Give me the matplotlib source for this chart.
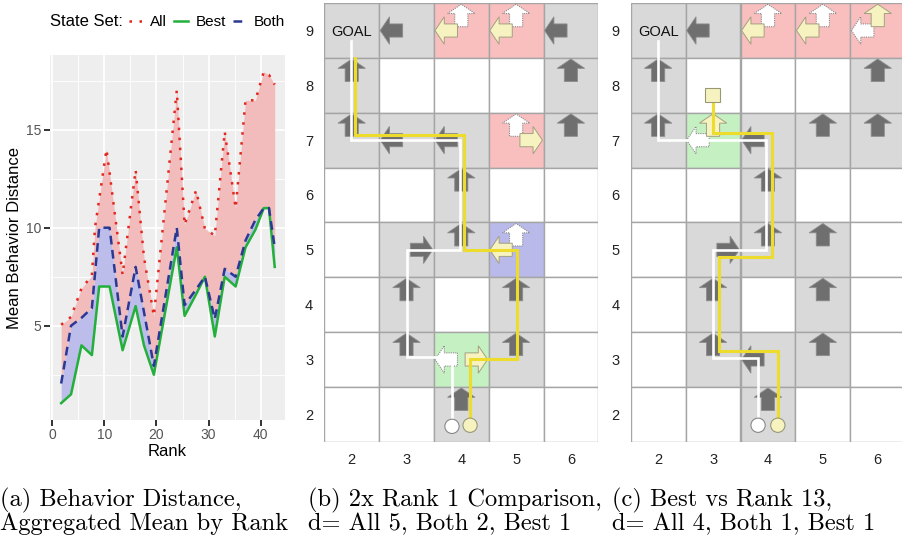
import numpy as np
import matplotlib.pyplot as plt
from matplotlib.patches import Polygon, Rectangle, Circle

W, H = 902, 537

# ---------------- panel (a): behaviour distance by rank ----------------
rank = [1.7, 3.6, 5.6, 7.6, 8.2, 9.0, 10.4, 11.0, 13.5, 16.0, 17.6, 19.5,
        23.9, 25.4, 27.6, 29.3, 31.2, 33.1, 35.2, 37.1, 39.0, 40.6, 41.6, 42.7]
dist_all = [5.05, 5.45, 6.9, 7.55, 10.0, 11.45, 14.0, 12.8, 7.6, 12.95, 8.5, 5.5,
            17.0, 10.15, 11.9, 9.95, 9.6, 14.9, 11.0, 16.5, 16.5, 17.95, 17.8, 17.3]
dist_both = [2.05, 5.0, 5.4, 5.9, 7.65, 10.0, 10.0, 10.0, 4.45, 8.0, 5.7, 2.95,
             10.0, 6.05, 6.85, 7.5, 5.35, 7.9, 7.5, 9.35, 10.4, 11.0, 11.0, 9.0]
dist_best = [1.05, 1.5, 4.0, 3.5, 5.0, 7.0, 7.0, 7.0, 3.75, 6.0, 4.0, 2.5,
             9.0, 5.5, 6.6, 7.5, 4.45, 7.5, 7.0, 9.0, 9.9, 11.0, 11.0, 8.0]
series_names = ['All', 'Best', 'Both']

# ---------------- panels (b) and (c): gridworld ----------------
cols = [2, 3, 4, 5, 6]
rows = [9, 8, 7, 6, 5, 4, 3, 2]
# g grey, w white, r red, G green, b blue  (rows 9 -> 2, cols 2 -> 6)
cells_b = ['ggrrg', 'gwwwg', 'gggrg', 'wwgww', 'wggbw', 'wgwgw', 'wgGgw', 'wwgww']
cells_c = ['ggrrr', 'gwwwg', 'gGggg', 'wwgww', 'wgggw', 'wgwgw', 'wgggw', 'wwgww']
# (col, row, direction, style)  d dark, y yellow, o white dotted
arrows_b = [(3, 9, 'L', 'd'), (6, 9, 'L', 'd'), (4, 9, 'U', 'o'), (4, 9, 'L', 'y'),
            (5, 9, 'U', 'o'), (5, 9, 'L', 'y'), (2, 8, 'U', 'd'), (6, 8, 'U', 'd'),
            (2, 7, 'U', 'd'), (3, 7, 'L', 'd'), (4, 7, 'L', 'd'), (5, 7, 'U', 'o'),
            (5, 7, 'R', 'y'), (6, 7, 'U', 'd'), (4, 6, 'U', 'd'), (3, 5, 'R', 'd'),
            (4, 5, 'U', 'd'), (5, 5, 'U', 'o'), (5, 5, 'L', 'y'), (3, 4, 'U', 'd'),
            (5, 4, 'U', 'd'), (3, 3, 'U', 'd'), (4, 3, 'L', 'o'), (4, 3, 'R', 'y'),
            (5, 3, 'U', 'd'), (4, 2, 'U', 'd')]
arrows_c = [(3, 9, 'L', 'd'), (4, 9, 'U', 'o'), (4, 9, 'L', 'y'), (5, 9, 'U', 'o'),
            (5, 9, 'L', 'y'), (6, 9, 'U', 'y'), (6, 9, 'L', 'o'), (2, 8, 'U', 'd'),
            (6, 8, 'U', 'd'), (2, 7, 'U', 'd'), (3, 7, 'U', 'y'), (3, 7, 'L', 'o'),
            (4, 7, 'L', 'd'), (5, 7, 'U', 'd'), (6, 7, 'U', 'd'), (4, 6, 'U', 'd'),
            (3, 5, 'R', 'd'), (4, 5, 'U', 'd'), (5, 5, 'U', 'd'), (3, 4, 'U', 'd'),
            (5, 4, 'U', 'd'), (3, 3, 'U', 'd'), (4, 3, 'L', 'd'), (5, 3, 'U', 'd'),
            (4, 2, 'U', 'd')]
white_b_x = [3.83, 3.83, 3.0, 3.0, 3.97, 3.97, 1.98, 1.98]
white_b_y = [1.8, 3.05, 3.05, 5.0, 5.0, 7.0, 7.0, 8.8]
yellow_b_x = [4.16, 4.16, 5.02, 5.02, 4.05, 4.05, 2.06, 2.06]
yellow_b_y = [1.82, 3.0, 3.0, 5.0, 5.0, 7.1, 7.1, 8.5]
white_c_x = [3.82, 3.82, 3.0, 3.0, 3.96, 3.96, 1.99, 1.99]
white_c_y = [1.82, 3.02, 3.02, 5.0, 5.0, 7.0, 7.0, 8.8]
yellow_c_x = [4.18, 4.18, 3.11, 3.11, 4.07, 4.07, 2.99, 2.99]
yellow_c_y = [1.82, 3.15, 3.15, 4.86, 4.86, 7.13, 7.13, 7.82]

captions = [["(a) Behavior Distance,", "Aggregated Mean by Rank"],
            ["(b) 2x Rank 1 Comparison,", "d= All 5, Both 2, Best 1"],
            ["(c) Best vs Rank 13,", "d= All 4, Both 1, Best 1"]]

plt.rcParams['font.family'] = ['Liberation Sans', 'DejaVu Sans']

fig = plt.figure(figsize=(W / 100, H / 100), dpi=100)


def px_axes(left, top, right, bottom):
    return fig.add_axes([left / W, 1 - bottom / H, (right - left) / W, (bottom - top) / H])


# ---- (a)
ax = px_axes(50, 55.2, 284.6, 420)
ax.set_facecolor('#EEEEEE')
ax.fill_between(rank, dist_both, dist_all, color='#F2BCBC', lw=0, zorder=2)
ax.fill_between(rank, dist_best, dist_both, color='#BDBDEC', lw=0, zorder=2)
l_all, = ax.plot(rank, dist_all, color='#E3261E', lw=1.8, ls=(0, (1, 3)), zorder=4)
l_best, = ax.plot(rank, dist_best, color='#22B03A', lw=1.8, zorder=3)
l_both, = ax.plot(rank, dist_both, color='#2B3894', lw=1.8, ls=(0, (3.5, 2.2)), zorder=3)
ax.set_xlim(-0.44, 44.6)
ax.set_ylim(0.19, 18.8)
ax.set_xticks([0, 10, 20, 30, 40])
ax.set_xticks([5, 15, 25, 35], minor=True)
ax.set_yticks([5, 10, 15])
ax.set_yticks([2.5, 7.5, 12.5, 17.5], minor=True)
ax.grid(which='major', color='white', lw=1.2, zorder=0)
ax.grid(which='minor', color='white', lw=0.6, zorder=0)
ax.set_axisbelow(True)
for s in ax.spines.values():
    s.set_visible(False)
ax.tick_params(which='major', length=4, width=1.3, color='#222222',
               labelsize=10, labelcolor='#555555', pad=2)
ax.tick_params(which='minor', length=0)
ax.set_xlabel('Rank', fontsize=12, labelpad=1)
ax.set_ylabel('Mean Behavior Distance', fontsize=12, labelpad=3)

fig.text(50 / W, 1 - 22 / H, 'State Set:', fontsize=12, va='center', ha='left')
fig.legend([l_all, l_best, l_both], series_names, ncol=3, frameon=False,
           loc='center left', bbox_to_anchor=(129 / W, 1 - 22 / H),
           fontsize=11, handlelength=0.9, handletextpad=0.5, columnspacing=0.45,
           borderaxespad=0, borderpad=0)

# ---- (b), (c)
cell_colors = {'g': '#D9D9D9', 'w': '#FFFFFF', 'r': '#F9BEBE', 'G': '#C4F0C2', 'b': '#B9B9EA'}
arrow_styles = {'d': dict(fc='#6F6F6F', ec='#8C8C8C', lw=0.6, ls='-'),
                'y': dict(fc='#F7F3C1', ec='#A3A083', lw=0.7, ls='-'),
                'o': dict(fc='#FFFFFF', ec='#8A8A8A', lw=0.8, ls=(0, (1, 1)))}
dirs = {'U': (0, 1), 'L': (-1, 0), 'R': (1, 0)}


def arrow_poly(c, r, d):
    L, hw, hl, sw = 0.41, 0.50, 0.17, 0.24
    ux, uy = dirs[d]
    tx, ty = c + ux * 0.48, r + uy * 0.48
    local = [(0, 0), (-hl, hw / 2), (-hl, sw / 2), (-L, sw / 2), (-L, -sw / 2),
             (-hl, -sw / 2), (-hl, -hw / 2)]
    return [(tx + a * ux - b * uy, ty + a * uy + b * ux) for a, b in local]


def draw_grid(ax, cells, arrows, wx, wy, yx, yy, square):
    for i, r in enumerate(rows):
        for j, c in enumerate(cols):
            ax.add_patch(Rectangle((c - 0.5, r - 0.5), 1, 1, fc=cell_colors[cells[i][j]],
                                   ec='#A5A5A5', lw=1.0, zorder=1))
    for c, r, d, st in arrows:
        ax.add_patch(Polygon(arrow_poly(c, r, d), closed=True, zorder=3 if st == 'y' else 2,
                             **arrow_styles[st]))
    ax.text(2.0, 8.98, 'GOAL', ha='center', va='center', fontsize=10.5, color='#111111', zorder=6)
    ax.plot(wx, wy, color='white', lw=1.9, zorder=4, solid_joinstyle='miter')
    ax.plot(yx, yy, color='#EEDC2C', lw=2.2, zorder=5, solid_joinstyle='miter')
    ax.add_patch(Circle((wx[0], wy[0] - 0.02), 0.13, fc='white', ec='#888888', lw=0.8, zorder=7))
    ax.add_patch(Circle((yx[0], yy[0] - 0.02), 0.13, fc='#F7F3C1', ec='#999977', lw=0.8, zorder=7))
    if square:
        ax.add_patch(Rectangle((yx[-1] - 0.13, yy[-1] - 0.13), 0.26, 0.26, fc='#F7F3C1',
                               ec='#999977', lw=0.8, zorder=7))
    ax.set_xlim(1.5, 6.5)
    ax.set_ylim(1.5, 9.5)
    ax.set_xticks(cols)
    ax.set_yticks(rows)
    ax.tick_params(length=0, labelsize=10.5, labelcolor='#222222', pad=8)
    for lab in ax.get_xticklabels() + ax.get_yticklabels():
        lab.set_family(['Liberation Sans Narrow', 'Liberation Sans'])
    for s in ax.spines.values():
        s.set_visible(False)


ax_b = px_axes(324.3, 3.1, 598.3, 441.7)
draw_grid(ax_b, cells_b, arrows_b, white_b_x, white_b_y, yellow_b_x, yellow_b_y, False)
ax_c = px_axes(630.7, 3.1, 905.2, 441.7)
draw_grid(ax_c, cells_c, arrows_c, white_c_x, white_c_y, yellow_c_x, yellow_c_y, True)

# ---- captions
for x0, lines in zip([0, 308, 612], captions):
    for k, line in enumerate(lines):
        fig.text(x0 / W, 1 - (506 + 24 * k) / H, line, family='cmr10', fontsize=17.6,
                 ha='left', va='baseline')

fig.savefig('out.png', dpi=100)
